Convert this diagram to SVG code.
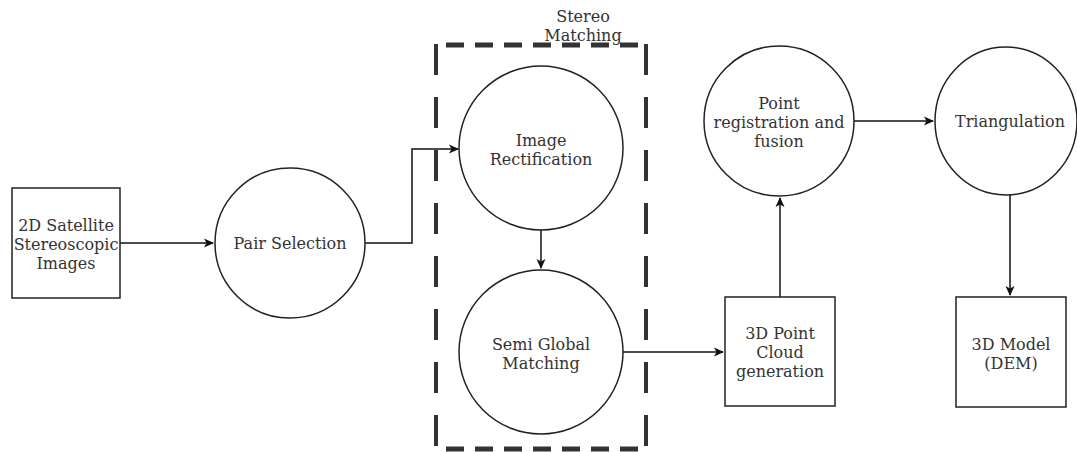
<svg xmlns="http://www.w3.org/2000/svg" width="1077" height="452" viewBox="0 0 1077 452">
<defs>
<marker id="arr" viewBox="0 0 10 10" refX="9" refY="5" markerWidth="10" markerHeight="10" markerUnits="userSpaceOnUse" orient="auto">
<path d="M0,0.5 L10,5 L0,9.5 L2.5,5 Z" fill="#111"/>
</marker>
<style>
.shape{fill:#fff;stroke:#222;stroke-width:1.5}
.lbl{font-family:"DejaVu Serif",serif;font-size:16px;fill:#333;text-anchor:middle}
.conn{fill:none;stroke:#111;stroke-width:1.5;marker-end:url(#arr)}
.dh{stroke:#333;stroke-width:5;stroke-dasharray:18 11;fill:none}
.dv{stroke:#333;stroke-width:4;stroke-dasharray:31 22;fill:none}
</style>
</defs>
<rect width="1077" height="452" fill="#fff"/>
<g id="stereo-matching-group">
<line class="dh" x1="437" y1="45" x2="646" y2="45" stroke-dashoffset="-9"/>
<line class="dh" x1="437" y1="449" x2="646" y2="449" stroke-dashoffset="-9"/>
<line class="dv" x1="436" y1="44" x2="436" y2="452"/>
<line class="dv" x1="646" y1="44" x2="646" y2="452"/>
<text class="lbl" x="583" y="22">Stereo</text>
<text class="lbl" x="583" y="41">Matching</text>
</g>
<g id="connectors">
<path class="conn" d="M120,243 H213"/>
<path class="conn" d="M365,243 H412 V149 H458"/>
<path class="conn" d="M541,230 V268"/>
<path class="conn" d="M623,352 H723"/>
<path class="conn" d="M780,297 V198"/>
<path class="conn" d="M854,121 H933"/>
<path class="conn" d="M1010,195 V295"/>
</g>
<g id="satellite-images">
<rect class="shape" x="12" y="188" width="108" height="110"/>
<text class="lbl" x="66" y="231">2D Satellite</text>
<text class="lbl" x="66" y="250">Stereoscopic</text>
<text class="lbl" x="66" y="269">Images</text>
</g>
<g id="pair-selection">
<circle class="shape" cx="290" cy="243" r="75"/>
<text class="lbl" x="290" y="249">Pair Selection</text>
</g>
<g id="image-rectification">
<circle class="shape" cx="541" cy="148" r="82"/>
<text class="lbl" x="541" y="146">Image</text>
<text class="lbl" x="541" y="165">Rectification</text>
</g>
<g id="semi-global-matching">
<circle class="shape" cx="541" cy="352" r="82"/>
<text class="lbl" x="541" y="350">Semi Global</text>
<text class="lbl" x="541" y="369">Matching</text>
</g>
<g id="point-cloud-generation">
<rect class="shape" x="725" y="297" width="110" height="109"/>
<text class="lbl" x="780" y="339">3D Point</text>
<text class="lbl" x="780" y="358">Cloud</text>
<text class="lbl" x="780" y="377">generation</text>
</g>
<g id="point-registration">
<circle class="shape" cx="779" cy="121" r="75"/>
<text class="lbl" x="779" y="109">Point</text>
<text class="lbl" x="779" y="128">registration and</text>
<text class="lbl" x="779" y="147">fusion</text>
</g>
<g id="triangulation">
<ellipse class="shape" cx="1006" cy="121" rx="71" ry="74"/>
<text class="lbl" x="1010" y="127">Triangulation</text>
</g>
<g id="model-dem">
<rect class="shape" x="956" y="297" width="110" height="110"/>
<text class="lbl" x="1011" y="350">3D Model</text>
<text class="lbl" x="1011" y="369">(DEM)</text>
</g>
</svg>
